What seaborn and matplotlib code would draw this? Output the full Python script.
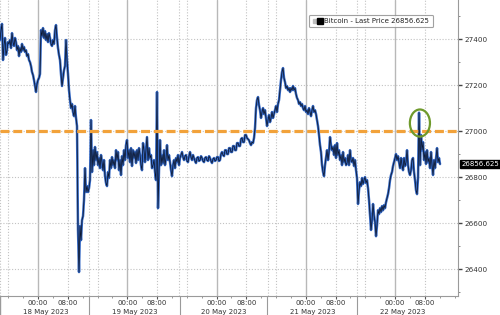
import numpy as np
import pandas as pd
import matplotlib
matplotlib.use("Agg")
import matplotlib.pyplot as plt
import matplotlib.dates as mdates
import matplotlib.transforms as mtransforms
from matplotlib.patches import Ellipse
from matplotlib.lines import Line2D
from matplotlib.legend_handler import HandlerTuple
import seaborn as sns

# ---------------- data ----------------
series_start = "2023-05-17 13:47"
series_end = "2023-05-22 12:06"
btc_price = [
    27396, 27439, 27466, 27309, 27374, 27405, 27331, 27352, 27387, 27379,
    27396, 27361, 27426, 27387, 27370, 27405, 27387, 27352, 27370, 27326,
    27361, 27344, 27379, 27352, 27366, 27344, 27352, 27326, 27335, 27309,
    27300, 27283, 27257, 27244, 27222, 27196, 27170, 27205, 27222, 27231,
    27248, 27439, 27413, 27448, 27405, 27435, 27396, 27422, 27387, 27426,
    27405, 27379, 27370, 27396, 27379, 27439, 27461, 27405, 27361, 27331,
    27309, 27248, 27196, 27231, 27265, 27283, 27396, 27309, 27248, 27178,
    27135, 27100, 27118, 27083, 27065, 27109, 27057, 27022,
    26570, 26387, 26587, 26526, 26613, 26630, 26700, 26839, 26735, 26761,
    26735, 26752, 26787, 27048, 26822, 26917, 26852, 26931,
    26874, 26909, 26852, 26883, 26839, 26896, 26865, 26830, 26874, 26804,
    26774, 26761, 26822, 26796, 26874, 26839, 26887, 26852, 26874, 26839,
    26917, 26874, 26909, 26830, 26874, 26809, 26891, 26852, 26917, 26874,
    26939, 26961, 26883, 26917, 26865, 26926, 26848, 26917, 26883, 26909,
    26861, 26917, 26874, 26926, 26896, 26852, 26830, 26948, 26917, 26865,
    26917, 26974, 26874, 26926, 26883, 26896, 26839, 26852, 26874, 26822,
    26787,
    27170, 26665, 26830, 26961, 26852, 26896, 26861, 26917, 26852, 26883,
    26939, 26874, 26896, 26865, 26830, 26804, 26852, 26874, 26839, 26883,
    26865, 26896, 26852, 26883, 26896, 26909, 26887, 26874, 26891, 26896,
    26870, 26865, 26891, 26909, 26887, 26874, 26896, 26883, 26870, 26861,
    26883, 26887, 26870, 26874, 26891, 26883, 26870, 26865, 26883, 26887,
    26874, 26870, 26891, 26883, 26870, 26861, 26878, 26883, 26870, 26874,
    26887, 26887, 26870, 26874, 26900, 26909, 26896, 26891, 26917, 26917,
    26900, 26900, 26926, 26926, 26909, 26909, 26935, 26935, 26917, 26917,
    26948, 26948, 26935, 26935, 26965, 26970, 26952, 26952, 26983, 26983,
    26970, 26965, 26960,
    26948, 26939, 26952, 26948, 26970, 27013, 27100, 27135, 27148, 27113,
    27091, 27057, 27083, 27100, 27074, 27091, 27057, 27022, 27048, 27070,
    27039, 27057, 27083, 27057, 27074, 27091, 27109, 27083, 27118, 27135,
    27178, 27222, 27257, 27274, 27231, 27213, 27187, 27196, 27178, 27187,
    27170, 27187, 27178, 27196, 27178, 27187, 27161, 27144, 27135, 27118,
    27126, 27109, 27118, 27100, 27091, 27109, 27083, 27091, 27074, 27100,
    27083, 27065, 27091, 27109, 27083, 27091, 27074, 27048, 27022, 26983,
    26939, 26909,
    26852, 26822, 26804, 26852, 26883, 26917, 26874, 26909, 26974, 26939,
    26917, 26931, 26896, 26939, 26883, 26948, 26896, 26917, 26874, 26896,
    26852, 26909, 26865, 26883, 26852, 26861, 26896, 26852, 26917, 26874,
    26865, 26883, 26848, 26874, 26830,
    26796, 26683, 26743, 26778, 26761, 26796, 26770, 26787, 26800, 26774,
    26787, 26752, 26700, 26635, 26570, 26613, 26683, 26635, 26604, 26543,
    26591, 26656, 26639, 26665, 26648, 26674, 26656, 26678, 26665, 26691,
    26709, 26726, 26752, 26787, 26809, 26822, 26848, 26865, 26883,
    26900, 26874, 26891, 26865, 26839, 26883, 26852, 26830, 26883, 26848,
    26865, 26917, 26852, 26822, 26809, 26830, 26874, 26883, 26822, 26787,
    26743, 26726, 26796, 27080, 26852, 26983, 26917, 26952, 26874, 26909,
    26857, 26917, 26865, 26883, 26839, 26909, 26852, 26809, 26874, 26839,
    26883, 26926, 26865, 26883, 26856.625,
]
last_price = 26856.625
reference_level = 27000
y_ticks = [26400, 26600, 26800, 27000, 27200, 27400]
day_starts = ["2023-05-18", "2023-05-19", "2023-05-20", "2023-05-21", "2023-05-22"]
day_labels = ["18 May 2023", "19 May 2023", "20 May 2023", "21 May 2023", "22 May 2023"]
legend_label = "Bitcoin - Last Price 26856.625"

x_min = pd.Timestamp("2023-05-17 13:47")
x_max = pd.Timestamp("2023-05-22 16:56")
y_min, y_max = 26283, 27570

# ---------------- style ----------------
sns.set_theme(style="white")
plt.rcParams["font.family"] = ["DejaVu Sans"]

times = pd.date_range(series_start, series_end, periods=len(btc_price))
df = pd.DataFrame({"time": times, "price": btc_price})

fig = plt.figure(figsize=(5.0, 3.15), dpi=100)
ax = fig.add_axes([0.0, 1 - 296 / 315, 458 / 500, 296 / 315])
ax.set_facecolor("white")

grid_c = "#c2c2c2"
# vertical grid
for d in ["2023-05-17", "2023-05-18", "2023-05-19", "2023-05-20", "2023-05-21"]:
    for hh in ["08:00", "13:50", "16:00"]:
        t = pd.Timestamp(f"{d} {hh}")
        if x_min < t < x_max:
            ax.axvline(t, color=grid_c, lw=0.8, ls=(0, (1, 1.6)), zorder=0)
ax.axvline(pd.Timestamp("2023-05-22 08:00"), color=grid_c, lw=0.8, ls=(0, (1, 1.6)), zorder=0)
for d in day_starts:
    ax.axvline(pd.Timestamp(d), color="#b8b8b8", lw=1.0, zorder=0)

# horizontal grid
for yv in y_ticks:
    ax.axhline(yv, color=grid_c, lw=0.8, ls=(0, (1, 1.6)), zorder=0)

# series: blue body with dark core
sns.lineplot(data=df, x="time", y="price", ax=ax, color="#3468c4", lw=1.8,
             estimator=None, zorder=3)
sns.lineplot(data=df, x="time", y="price", ax=ax, color="#0a0f1e", lw=0.5,
             estimator=None, zorder=4)

# reference level
ax.axhline(reference_level, color="#f2a23a", lw=2.3, dashes=(2.8, 1.2), zorder=5)

# highlight ellipse around the last-day spike
last_day = df[df["time"] >= pd.Timestamp("2023-05-22")]
spike = last_day.loc[last_day["price"].idxmax()]
ell = Ellipse((mdates.date2num(spike["time"]) + 0.01, spike["price"] - 45),
              width=0.225, height=118, fill=False, ec="#6f9a2c", lw=1.6, zorder=6)
ax.add_patch(ell)

ax.set_xlim(x_min, x_max)
ax.set_ylim(y_min, y_max)
ax.set_xlabel("")
ax.set_ylabel("")

# spines
for s in ["top", "left"]:
    ax.spines[s].set_visible(False)
for s in ["right", "bottom"]:
    ax.spines[s].set_color("#9a9a9a")
    ax.spines[s].set_linewidth(0.8)

# y axis on right
ax.yaxis.tick_right()
ax.set_yticks(y_ticks)
ax.set_yticks(np.arange(26300, 27600, 100), minor=True)
ax.set_yticklabels([str(v) for v in y_ticks])
ax.tick_params(axis="y", which="major", direction="out", length=3, width=1.0,
               color="#444444", labelsize=5.2, labelcolor="#333333", pad=1.5, right=True)
ax.tick_params(axis="y", which="minor", direction="out", length=1.5, width=0.6,
               color="#777777", right=True)

# x axis
ax.xaxis.set_major_locator(mdates.HourLocator(byhour=[0, 8]))
ax.xaxis.set_major_formatter(mdates.DateFormatter("%H:%M"))
ax.xaxis.set_minor_locator(mdates.HourLocator(byhour=range(0, 24, 4)))
ax.tick_params(axis="x", which="major", direction="out", length=2, width=0.8,
               color="#555555", labelsize=5.0, labelcolor="#333333", pad=0.8, bottom=True)
ax.tick_params(axis="x", which="minor", direction="out", length=1.5, width=0.6,
               color="#888888", bottom=True)

trans = mtransforms.blended_transform_factory(ax.transData, ax.transAxes)
for d, lab in zip(day_starts, day_labels):
    ax.text(pd.Timestamp(d) + pd.Timedelta(hours=2), -0.054, lab, transform=trans,
            ha="center", va="center", fontsize=5.0, color="#333333", clip_on=False)

# label separators below the axis
for t in ["2023-05-18 13:50", "2023-05-19 14:10", "2023-05-20 13:35", "2023-05-21 13:50"]:
    ax.axvline(pd.Timestamp(t), ymin=-0.07, ymax=0, color="#9a9a9a", lw=0.8, clip_on=False)
ax.axvline(x_min, ymin=-0.07, ymax=0, color="#9a9a9a", lw=1.0, clip_on=False)

# last price tag
ytrans = mtransforms.blended_transform_factory(ax.transAxes, ax.transData)
ax.text(1.0 + 3.5 / 458, last_price, f"{last_price:.3f}", transform=ytrans,
        ha="left", va="center", fontsize=5.0, color="white", clip_on=False, zorder=10,
        bbox=dict(boxstyle="square,pad=0.18", fc="black", ec="black"))

# legend
h_small = Line2D([], [], marker="s", ls="", color="#bdbdbd", ms=2.4)
h_big = Line2D([], [], marker="s", ls="", color="#000000", ms=4.0)
leg = ax.legend(handles=[(h_small, h_big)], labels=[legend_label],
                handler_map={tuple: HandlerTuple(ndivide=None, pad=0.1)},
                loc="center", bbox_to_anchor=(0.81, 0.929), fontsize=5.0,
                frameon=True, fancybox=True, handlelength=1.4, handletextpad=0.3,
                borderpad=0.45, borderaxespad=0)
leg.get_frame().set_edgecolor("#8a8a8a")
leg.get_frame().set_linewidth(0.8)
leg.get_frame().set_boxstyle("round,pad=0.02,rounding_size=0.15")
for t in leg.get_texts():
    t.set_color("#222222")

fig.savefig("out.png", dpi=100)
